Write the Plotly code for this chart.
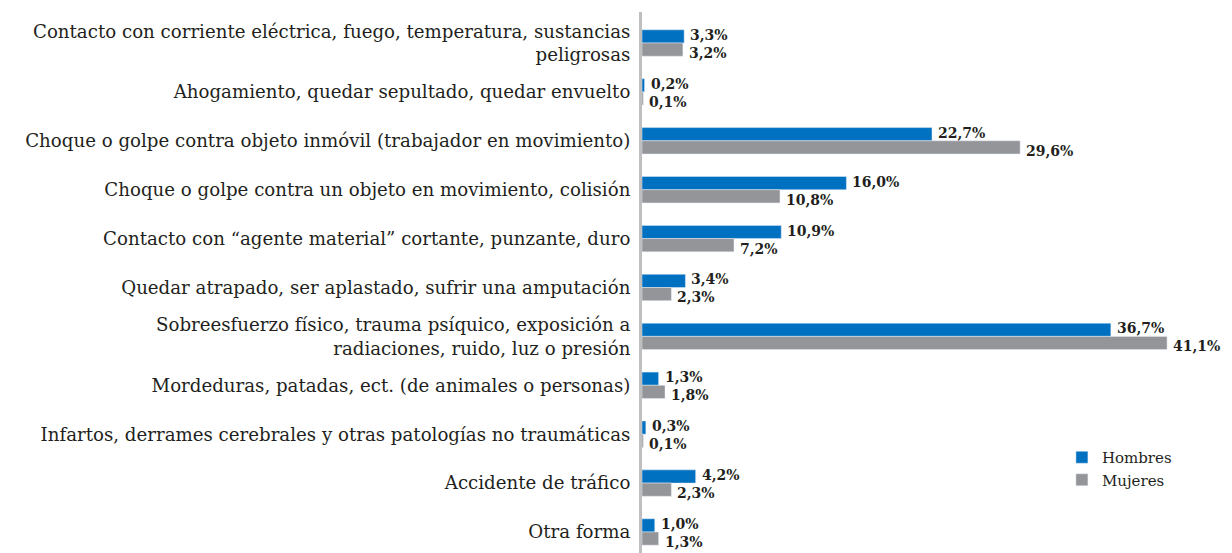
import plotly.graph_objects as go

categories = [
    "Contacto con corriente eléctrica, fuego, temperatura, sustancias<br>peligrosas",
    "Ahogamiento, quedar sepultado, quedar envuelto",
    "Choque o golpe contra objeto inmóvil (trabajador en movimiento)",
    "Choque o golpe contra un objeto en movimiento, colisión",
    "Contacto con “agente material” cortante, punzante, duro",
    "Quedar atrapado, ser aplastado, sufrir una amputación",
    "Sobreesfuerzo físico, trauma psíquico, exposición a<br>radiaciones, ruido, luz o presión",
    "Mordeduras, patadas, ect. (de animales o personas)",
    "Infartos, derrames cerebrales y otras patologías no traumáticas",
    "Accidente de tráfico",
    "Otra forma",
]
hombres = [3.3, 0.2, 22.7, 16.0, 10.9, 3.4, 36.7, 1.3, 0.3, 4.2, 1.0]
mujeres = [3.2, 0.1, 29.6, 10.8, 7.2, 2.3, 41.1, 1.8, 0.1, 2.3, 1.3]

def fmt(v):
    return f"{v:.1f}".replace(".", ",") + "%"

label_font = dict(family="DejaVu Serif", size=14, color="#231F20")

fig = go.Figure()
fig.add_trace(go.Bar(
    y=categories, x=hombres, orientation="h", name="Hombres",
    marker_color="#0070C0",
))
fig.add_trace(go.Bar(
    y=categories, x=mujeres, orientation="h", name="Mujeres",
    marker_color="#939598",
))

for series, ys in ((hombres, 8), (mujeres, -10)):
    for cat, v in zip(categories, series):
        fig.add_annotation(
            x=v, y=cat, xref="x", yref="y", text=f"<b>{fmt(v)}</b>",
            showarrow=False, xanchor="left", yanchor="middle",
            xshift=4, yshift=ys, font=label_font,
        )

fig.update_layout(
    width=1224, height=545,
    margin=dict(l=634, r=10, t=4, b=0),
    paper_bgcolor="white", plot_bgcolor="white",
    barmode="group", bargap=0.46, bargroupgap=0,
    font=dict(family="DejaVu Serif", size=18, color="#231F20"),
    showlegend=True,
    legend=dict(x=0.724, y=0.207, xanchor="left", yanchor="top",
                font=dict(family="DejaVu Serif", size=15, color="#231F20"),
                traceorder="normal", itemwidth=30, bgcolor="rgba(0,0,0,0)"),
)
fig.update_xaxes(range=[0, 45.4], visible=False, showgrid=False, zeroline=False)
fig.update_yaxes(
    type="category", range=[10.43, -0.634],
    showline=True, linecolor="#BFBFBF", linewidth=3,
    showgrid=False, ticks="", ticklabelstandoff=5,
    tickfont=dict(family="DejaVu Serif", size=18.2, color="#231F20"),
    automargin=False,
)

fig.write_html("out.html")
